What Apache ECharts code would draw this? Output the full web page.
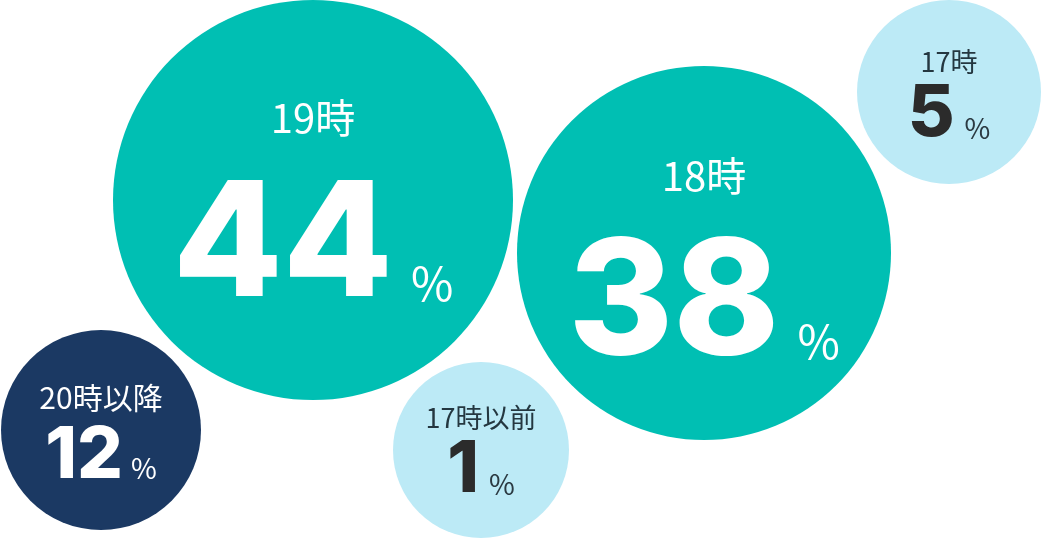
<!DOCTYPE html>
<html>
<head>
<meta charset="utf-8">
<script src="https://cdn.jsdelivr.net/npm/echarts@6/dist/echarts.min.js"></script>
<style>
  html, body { margin: 0; padding: 0; background: #fff; }
  #main { width: 1041px; height: 538px; }
</style>
</head>
<body>
<div id="main"></div>
<script>
// 時間帯ごとの割合（%）
const categories = ['19時', '18時', '17時', '20時以降', '17時以前'];
const shares = [44, 38, 5, 12, 1];

// bubble layout, in canvas pixels
const bubbleX = [313, 704, 949, 101, 481];
const bubbleY = [200, 253, 92, 430, 450];
const bubbleR = [200, 187, 92, 100, 88];
const bubbleKind = ['big', 'big', 'light', 'navy', 'light'];
const labelShift = [0, 5, 2, 0, 0];

const fills = { big: '#00bfb3', navy: '#1b3963', light: '#bceaf6' };
const jp = '"Noto Sans CJK JP", "Noto Sans", sans-serif';
const num = 'Inter, Roboto, sans-serif';

const chart = echarts.init(document.getElementById('main'));

const data = categories.map(function (c, i) {
  return {
    name: c,
    value: [bubbleX[i], bubbleY[i], shares[i]],
    symbolSize: bubbleR[i] * 2,
    itemStyle: { color: fills[bubbleKind[i]], opacity: 1 },
    label: { offset: [0, labelShift[i]] }
  };
});

chart.setOption({
  animation: false,
  backgroundColor: '#ffffff',
  grid: { left: 0, right: 0, top: 0, bottom: 0 },
  xAxis: { type: 'value', min: 0, max: 1041, show: false },
  yAxis: { type: 'value', min: 0, max: 538, inverse: true, show: false },
  series: [{
    type: 'scatter',
    symbol: 'circle',
    data: data,
    itemStyle: { opacity: 1 },
    emphasis: { disabled: true },
    label: {
      show: true,
      position: 'inside',
      formatter: function (p) {
        const k = bubbleKind[p.dataIndex];
        return '{' + k + 'Name|' + categories[p.dataIndex] + '}\n' +
          '{' + k + 'Num|' + shares[p.dataIndex] + '}{' + k + 'Pct|%}';
      },
      rich: {
        bigName: { fontFamily: jp, fontSize: 40, color: '#fff', lineHeight: 95 },
        bigNum: { fontFamily: num, fontWeight: 800, fontSize: 160, color: '#fff', lineHeight: 165 },
        bigPct: { fontFamily: jp, fontSize: 46, color: '#fff', lineHeight: 60, verticalAlign: 'bottom', padding: [0, 0, 23, 18] },
        navyName: { fontFamily: jp, fontSize: 30, color: '#fff', lineHeight: 52 },
        navyNum: { fontFamily: num, fontWeight: 800, fontSize: 72, color: '#fff', lineHeight: 64 },
        navyPct: { fontFamily: jp, fontSize: 28, color: '#fff', lineHeight: 30, verticalAlign: 'bottom', padding: [0, 0, 6, 8] },
        lightName: { fontFamily: jp, fontSize: 27, color: '#243740', lineHeight: 40 },
        lightNum: { fontFamily: num, fontWeight: 800, fontSize: 72, color: '#2b2b2b', lineHeight: 64 },
        lightPct: { fontFamily: jp, fontSize: 28, color: '#2b3a42', lineHeight: 30, verticalAlign: 'bottom', padding: [0, 0, 4, 10] }
      }
    }
  }]
});
</script>
</body>
</html>
